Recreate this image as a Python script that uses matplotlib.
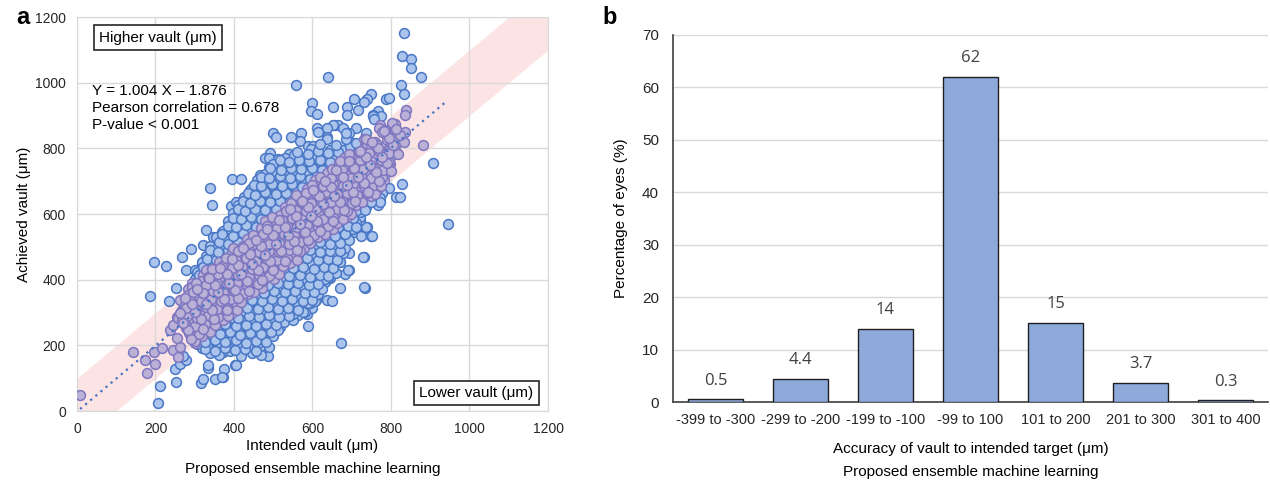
import numpy as np
import matplotlib.pyplot as plt

plt.rcParams['font.family'] = ['Liberation Sans', 'DejaVu Sans']

# ---- panel a: (intended, achieved) vault in um ----
high_side = [
    (832, 1150), (827, 1082), (851, 1072), (851, 1044), (877, 1017), (639, 1017), (557, 993), (825, 993),
    (832, 966), (749, 966), (738, 951), (730, 941), (707, 949), (787, 950), (796, 953), (598, 939),
    (595, 914), (611, 904), (687, 925), (651, 925), (717, 917), (766, 914), (687, 902), (755, 902),
    (839, 916), (836, 902), (775, 900), (753, 900), (757, 889), (809, 874), (772, 871), (657, 871),
    (664, 871), (651, 871), (710, 861), (679, 861), (636, 861), (611, 861), (615, 851), (572, 848),
    (499, 848), (770, 861), (507, 834), (544, 835), (568, 822), (589, 807), (602, 807), (636, 836),
    (687, 825), (730, 830), (704, 815), (694, 846), (492, 785), (479, 770), (490, 770), (511, 768),
    (541, 782), (560, 767), (679, 795), (490, 744), (561, 746), (585, 744), (602, 744), (394, 706),
    (418, 706), (339, 678), (345, 627), (330, 551), (392, 624), (405, 637), (466, 719), (485, 706),
    (509, 719), (526, 706), (445, 678), (458, 658), (483, 663), (496, 653), (322, 506), (347, 531),
    (369, 546), (339, 475), (360, 470), (381, 506), (394, 475),
]
left_side = [
    (8, 49), (143, 181), (173, 155), (178, 115), (196, 181), (199, 142), (216, 193), (211, 76),
    (206, 23), (186, 350), (196, 455), (226, 443), (235, 336), (252, 376), (267, 468), (291, 493),
    (279, 431), (301, 429), (318, 445), (322, 414), (292, 389), (284, 373), (250, 128), (252, 87),
    (262, 142), (257, 181), (267, 165), (279, 155), (237, 247), (244, 262), (254, 285), (262, 338),
    (275, 323), (292, 277), (301, 313), (245, 186), (258, 165), (271, 168), (258, 282), (267, 308),
    (288, 267), (296, 318), (309, 287), (326, 247), (318, 298), (330, 348), (356, 379), (369, 338),
    (381, 318),
]
low_side = [
    (301, 206), (318, 193), (316, 84), (322, 99), (335, 130), (335, 140), (352, 99), (373, 104),
    (375, 127), (371, 181), (403, 140), (390, 211), (415, 196), (437, 237), (449, 191), (466, 201),
    (479, 181), (487, 168), (500, 231), (511, 267), (534, 287), (543, 282), (564, 292), (585, 295),
    (598, 313), (594, 328), (609, 338), (636, 338), (589, 259), (944, 571), (749, 534), (730, 468),
    (693, 482), (734, 376), (694, 429), (683, 417), (670, 376), (649, 336), (673, 206), (602, 373),
    (589, 373), (606, 336), (581, 303), (725, 546), (713, 556), (708, 546), (738, 561), (721, 571),
    (666, 490), (670, 455), (657, 450), (649, 475), (636, 496), (632, 470), (645, 404), (632, 394),
    (615, 419), (602, 404), (585, 429), (573, 394), (827, 691), (814, 653), (823, 651), (796, 678),
    (778, 665), (772, 648), (766, 628), (747, 643), (751, 533), (728, 470), (724, 533), (736, 561),
    (721, 582), (772, 637), (732, 377), (640, 404), (691, 429), (711, 597), (721, 592), (441, 267),
    (471, 277), (483, 247), (517, 257), (466, 196), (445, 186), (424, 206), (369, 181), (407, 277),
    (404, 141), (369, 104), (906, 756),
]
upper_band = [
    (802, 876), (836, 851), (819, 820), (806, 835), (785, 851), (781, 770), (793, 770), (776, 703),
    (747, 714), (730, 770), (755, 734), (764, 785), (730, 800), (747, 780), (751, 714), (708, 729),
    (687, 683), (683, 643), (670, 612), (687, 592), (662, 582), (832, 820), (804, 833), (789, 846),
    (778, 849), (882, 810), (822, 840), (812, 858), (760, 820), (740, 812), (795, 800), (810, 795),
    (720, 745), (700, 700), (718, 690), (735, 680), (760, 745),
]
core = [
    (338, 178), (362, 170), (391, 182), (418, 168), (446, 176), (470, 171),
    (306, 205), (331, 197), (357, 208), (383, 195), (409, 203), (436, 199), (462, 206), (489, 196),
    (293, 222), (318, 230), (344, 219), (370, 228), (396, 221), (422, 231), (448, 224), (474, 220), (500, 229),
    (279, 253), (305, 246), (331, 255), (357, 248), (383, 257), (409, 245), (435, 252), (461, 249), (487, 256),
    (513, 247),
    (268, 278), (294, 272), (320, 280), (346, 271), (372, 277), (398, 282), (424, 270), (450, 279), (476, 273),
    (502, 281), (528, 270), (550, 277),
    (265, 302), (291, 297), (317, 305), (343, 296), (369, 303), (395, 298), (421, 306), (447, 295), (473, 302),
    (499, 299), (525, 304), (551, 296), (577, 301),
    (276, 322), (302, 329), (328, 320), (354, 327), (380, 323), (406, 330), (432, 321), (458, 328), (484, 324),
    (510, 319), (536, 327), (562, 322), (588, 329),
    (282, 352), (306, 347), (332, 355), (358, 346), (384, 353), (410, 348), (436, 356), (462, 347), (488, 351),
    (514, 357), (540, 346), (566, 353), (592, 349), (614, 355),
    (292, 378), (315, 372), (341, 380), (367, 371), (393, 377), (419, 381), (445, 370), (471, 376), (497, 382),
    (523, 372), (549, 379), (575, 373), (601, 378), (624, 371),
    (300, 403), (319, 397), (345, 405), (371, 396), (397, 402), (423, 398), (449, 406), (475, 395), (501, 401),
    (527, 404), (553, 397), (579, 403), (605, 396), (631, 402),
    (306, 423), (330, 429), (356, 420), (382, 427), (408, 422), (434, 430), (460, 421), (486, 428), (512, 424),
    (538, 419), (564, 426), (590, 431), (616, 422), (642, 428), (660, 421),
    (318, 453), (335, 447), (361, 455), (387, 446), (413, 452), (439, 457), (465, 448), (491, 454), (517, 446),
    (543, 451), (569, 456), (595, 447), (621, 453), (647, 449), (670, 455),
    (328, 472), (346, 479), (366, 471), (392, 478), (418, 473), (444, 480), (470, 470), (496, 477), (522, 472),
    (548, 479), (574, 473), (600, 478), (626, 470), (652, 476), (678, 481),
    (340, 503), (358, 497), (371, 505), (397, 496), (423, 502), (449, 498), (475, 506), (501, 495), (527, 501),
    (553, 507), (579, 497), (605, 503), (631, 498), (657, 505), (683, 496),
    (355, 529), (381, 520), (407, 527), (433, 523), (459, 530), (485, 521), (511, 526), (537, 520), (563, 528),
    (589, 523), (615, 529), (641, 521), (667, 526), (693, 522),
    (372, 547), (391, 555), (417, 546), (443, 552), (469, 557), (495, 548), (521, 554), (547, 546), (573, 551),
    (599, 556), (625, 547), (651, 553), (677, 549), (703, 555),
    (384, 579), (402, 571), (428, 578), (454, 573), (480, 580), (506, 570), (532, 577), (558, 573), (584, 579),
    (610, 571), (636, 577), (662, 574), (688, 580), (712, 572),
    (398, 603), (412, 597), (438, 596), (464, 602), (490, 607), (516, 598), (542, 604), (568, 597), (594, 602),
    (620, 606), (646, 597), (672, 603), (698, 599), (722, 605),
    (410, 629), (426, 620), (452, 627), (478, 623), (504, 630), (530, 621), (556, 626), (582, 620), (608, 628),
    (634, 623), (660, 629), (686, 621), (712, 626), (736, 622),
    (425, 653), (441, 647), (467, 646), (493, 652), (519, 657), (545, 648), (571, 654), (597, 647), (623, 652),
    (649, 656), (675, 647), (701, 653), (727, 649), (750, 655),
    (440, 672), (456, 679), (482, 678), (508, 673), (534, 680), (560, 670), (586, 677), (612, 673), (638, 679),
    (664, 671), (690, 677), (716, 672), (742, 678), (764, 674),
    (458, 703), (477, 697), (503, 696), (529, 702), (555, 707), (581, 698), (607, 704), (633, 697), (659, 702),
    (685, 706), (711, 697), (737, 703), (763, 699), (782, 705),
    (478, 722), (507, 729), (533, 727), (559, 723), (585, 730), (611, 721), (637, 726), (663, 720), (689, 728),
    (715, 723), (741, 729), (767, 721), (790, 727),
    (500, 753), (523, 747), (547, 755), (571, 746), (595, 752), (619, 757), (643, 748), (667, 754), (693, 747),
    (719, 752), (745, 756), (771, 747), (797, 753),
    (530, 772), (554, 779), (578, 771), (602, 778), (628, 773), (654, 780), (680, 770), (706, 777), (732, 773),
    (758, 779), (784, 771), (800, 777),
    (596, 797), (644, 796), (696, 807), (748, 804), (798, 802),
    (636, 829), (685, 827), (737, 830), (789, 826),
    (686, 847), (736, 846), (786, 857),
]
core_between = [
    (325, 189), (351, 184), (377, 191), (403, 186), (429, 190), (455, 183),
    (300, 214), (326, 209), (352, 216), (378, 211), (404, 215), (430, 208), (456, 213), (482, 210),
    (286, 239), (312, 234), (338, 241), (364, 236), (390, 240), (416, 233), (442, 238), (468, 235), (494, 240),
    (274, 264), (300, 259), (326, 266), (352, 261), (378, 265), (404, 258), (430, 263), (456, 260), (482, 266),
    (508, 262),
    (281, 289), (307, 284), (333, 291), (359, 286), (385, 290), (411, 283), (437, 288), (463, 285), (489, 291),
    (515, 286), (541, 290),
    (278, 314), (304, 309), (330, 316), (356, 311), (382, 315), (408, 308), (434, 313), (460, 310), (486, 316),
    (512, 311), (538, 315), (564, 309),
    (289, 339), (315, 334), (341, 341), (367, 336), (393, 340), (419, 333), (445, 338), (471, 335), (497, 341),
    (523, 336), (549, 340), (575, 334), (598, 339),
    (295, 364), (321, 359), (347, 366), (373, 361), (399, 365), (425, 358), (451, 363), (477, 360), (503, 366),
    (529, 361), (555, 365), (581, 359), (605, 363),
    (304, 389), (330, 384), (356, 391), (382, 386), (408, 390), (434, 383), (460, 388), (486, 385), (512, 391),
    (538, 386), (564, 390), (590, 384), (614, 388),
    (310, 414), (333, 409), (359, 416), (385, 411), (411, 415), (437, 408), (463, 413), (489, 410), (515, 416),
    (541, 411), (567, 415), (593, 409), (619, 413), (640, 410),
    (320, 439), (343, 434), (369, 441), (395, 436), (421, 440), (447, 433), (473, 438), (499, 435), (525, 441),
    (551, 436), (577, 440), (603, 434), (629, 438), (652, 436),
    (332, 464), (353, 459), (379, 466), (405, 461), (431, 465), (457, 458), (483, 463), (509, 460), (535, 466),
    (561, 461), (587, 465), (613, 459), (639, 463), (662, 461),
    (340, 489), (359, 484), (385, 491), (411, 486), (437, 490), (463, 483), (489, 488), (515, 485), (541, 491),
    (567, 486), (593, 490), (619, 484), (645, 488), (670, 486),
    (362, 514), (385, 509), (411, 516), (437, 511), (463, 515), (489, 508), (515, 513), (541, 510), (567, 516),
    (593, 511), (619, 515), (645, 509), (671, 513),
    (370, 539), (397, 534), (423, 541), (449, 536), (475, 540), (501, 533), (527, 538), (553, 535), (579, 541),
    (605, 536), (631, 540), (657, 534), (683, 538),
    (385, 564), (405, 559), (431, 566), (457, 561), (483, 565), (509, 558), (535, 563), (561, 560), (587, 566),
    (613, 561), (639, 565), (665, 559), (691, 563), (712, 561),
    (398, 589), (418, 584), (444, 591), (470, 586), (496, 590), (522, 583), (548, 588), (574, 585), (600, 591),
    (626, 586), (652, 590), (678, 584), (704, 588),
    (410, 614), (428, 609), (454, 616), (480, 611), (506, 615), (532, 608), (558, 613), (584, 610), (610, 616),
    (636, 611), (662, 615), (688, 609), (714, 613), (735, 611),
    (422, 639), (440, 634), (466, 641), (492, 636), (518, 640), (544, 633), (570, 638), (596, 635), (622, 641),
    (648, 636), (674, 640), (700, 634), (726, 638), (748, 636),
    (436, 664), (454, 659), (480, 666), (506, 661), (532, 665), (558, 658), (584, 663), (610, 660), (636, 666),
    (662, 661), (688, 665), (714, 659), (740, 663), (760, 661),
    (452, 689), (470, 684), (496, 691), (522, 686), (548, 690), (574, 683), (600, 688), (626, 685), (652, 691),
    (678, 686), (704, 690), (730, 684), (756, 688), (774, 686),
    (470, 714), (490, 709), (516, 716), (542, 711), (568, 715), (594, 708), (620, 713), (646, 710), (672, 716),
    (698, 711), (724, 715), (750, 709), (776, 713),
    (492, 739), (520, 734), (546, 741), (572, 736), (598, 740), (624, 733), (650, 738), (676, 735), (702, 741),
    (728, 736), (754, 740), (780, 734),
    (516, 764), (540, 759), (566, 766), (592, 761), (618, 765), (644, 758), (670, 763), (696, 760), (722, 766),
    (748, 761), (774, 765), (796, 759),
    (560, 789), (588, 784), (614, 791), (640, 786), (666, 790), (692, 783), (718, 788), (744, 785), (770, 791),
    (794, 786),
    (620, 814), (660, 809), (712, 816), (764, 811), (800, 815),
]
diagonal = [
    (262, 195), (291, 218), (322, 250), (349, 281), (381, 309), (410, 343), (438, 366), (471, 400), (499, 431),
    (530, 458), (561, 489), (589, 521), (620, 548), (651, 579), (680, 612), (709, 640), (741, 668), (769, 701),
    (800, 731),
    (255, 222), (284, 248), (316, 281), (344, 308), (375, 341), (402, 369), (433, 396), (462, 428), (493, 457),
    (520, 486), (553, 518), (582, 545), (612, 578), (643, 607), (671, 636), (702, 668), (731, 695), (762, 729),
    (790, 754), (818, 784),
    (270, 268), (300, 302), (329, 327), (360, 361), (388, 390), (419, 417), (447, 449), (478, 476), (508, 510),
    (537, 536), (568, 569), (596, 595), (627, 630), (656, 654), (687, 689), (716, 714), (747, 749), (776, 774),
    (806, 809),
    (262, 299), (293, 326), (321, 358), (352, 385), (381, 418), (411, 444), (440, 477), (470, 503), (499, 536),
    (529, 562), (558, 595), (589, 621), (617, 654), (648, 681), (677, 713), (707, 740), (736, 773), (767, 800),
    (796, 833),
    (276, 345), (305, 372), (336, 404), (364, 436), (395, 463), (424, 496), (455, 522), (483, 555), (514, 582),
    (543, 614), (574, 641), (602, 673), (633, 700), (661, 733), (692, 760), (721, 793), (752, 818), (781, 853),
]

slope, intercept = 1.004, -1.876
fit_x = np.array([8, 940])
band_half = 100

# ---- panel b ----
bins = ['-399 to -300', '-299 to -200', '-199 to -100', '-99 to 100', '101 to 200', '201 to 300', '301 to 400']
percent = [0.5, 4.4, 14, 62, 15, 3.7, 0.3]
percent_txt = ['0.5', '4.4', '14', '62', '15', '3.7', '0.3']

pts = np.array(high_side + left_side + low_side + upper_band + core + core_between + diagonal, dtype=float)
intended = pts[:, 0]
achieved = pts[:, 1]
inside = np.abs(achieved - intended) <= band_half

fig = plt.figure(figsize=(12.7, 4.84), dpi=100)
ax = fig.add_axes([0.0606, 0.1508, 0.3709, 0.8140])
ax2 = fig.add_axes([0.5299, 0.1694, 0.4685, 0.7583])

grey = '#d9d9d9'
ax.set_axisbelow(True)
ax.grid(True, color=grey, lw=1)
ax.fill_between([0, 1200], [-band_half, 1200 - band_half], [band_half, 1200 + band_half],
                color='#fde4e4', lw=0, zorder=0.2)
ax.scatter(intended[~inside], achieved[~inside], s=50, c='#abc4ec', edgecolors='#4a77c6', linewidths=1.1, zorder=3)
ax.scatter(intended[inside], achieved[inside], s=50, c='#bbb0d6', edgecolors='#7d76c0', linewidths=1.1, zorder=4)
ax.plot(fit_x, slope * fit_x + intercept, color='#4472c4', lw=1.6, ls=(0, (1, 2)), zorder=5)

ax.set_xlim(0, 1200)
ax.set_ylim(0, 1200)
ax.set_xticks(range(0, 1201, 200))
ax.set_yticks(range(0, 1201, 200))
for s in ax.spines.values():
    s.set_color(grey)
ax.tick_params(length=0, labelsize=10, colors='#262626', pad=8)
ax.set_xlabel('Intended vault (μm)\nProposed ensemble machine learning', fontsize=11, linespacing=1.8, labelpad=2)
ax.set_ylabel('Achieved vault (μm)', fontsize=11, labelpad=3)

ax.text(0.172, 0.948, 'Higher vault (μm)', transform=ax.transAxes, ha='center', va='center', fontsize=11,
        bbox=dict(boxstyle='square,pad=0.35', fc='white', ec='#262626', lw=1.2), zorder=6)
ax.text(0.848, 0.046, 'Lower vault (μm)', transform=ax.transAxes, ha='center', va='center', fontsize=11,
        bbox=dict(boxstyle='square,pad=0.35', fc='white', ec='#262626', lw=1.2), zorder=6)
ax.text(0.032, 0.83, 'Y = 1.004 X – 1.876\nPearson correlation = 0.678\nP-value < 0.001',
        transform=ax.transAxes, ha='left', va='top', fontsize=11, linespacing=1.25, zorder=6)

xb = np.arange(len(bins))
ax2.set_axisbelow(True)
ax2.yaxis.grid(True, color=grey, lw=1)
ax2.bar(xb, percent, width=0.65, color='#8eaadb', edgecolor='#1f1f1f', linewidth=1.0, zorder=3)
for i, (v, t) in enumerate(zip(percent, percent_txt)):
    ax2.text(i, v + 3.6, t, ha='center', va='center', fontsize=12, family=['Open Sans', 'DejaVu Sans'],
             color='#404040')
ax2.set_xlim(-0.5, 6.5)
ax2.set_ylim(0, 70)
ax2.set_yticks(range(0, 71, 10))
ax2.set_xticks(xb)
ax2.set_xticklabels(bins)
for side in ['top', 'right']:
    ax2.spines[side].set_visible(False)
for side in ['left', 'bottom']:
    ax2.spines[side].set_color('#404040')
    ax2.spines[side].set_linewidth(1.2)
ax2.tick_params(length=0, labelsize=10.5, colors='#262626', pad=8)
ax2.tick_params(axis='y', labelsize=11, pad=10)
ax2.set_xlabel('Accuracy of vault to intended target (μm)\nProposed ensemble machine learning', fontsize=11,
               linespacing=1.8, labelpad=11)
ax2.set_ylabel('Percentage of eyes (%)', fontsize=11, labelpad=10)

fig.text(0.013, 0.963, 'a', fontsize=17, fontweight='bold', va='center')
fig.text(0.474, 0.963, 'b', fontsize=17, fontweight='bold', va='center')

fig.savefig('out.png', dpi=100)
